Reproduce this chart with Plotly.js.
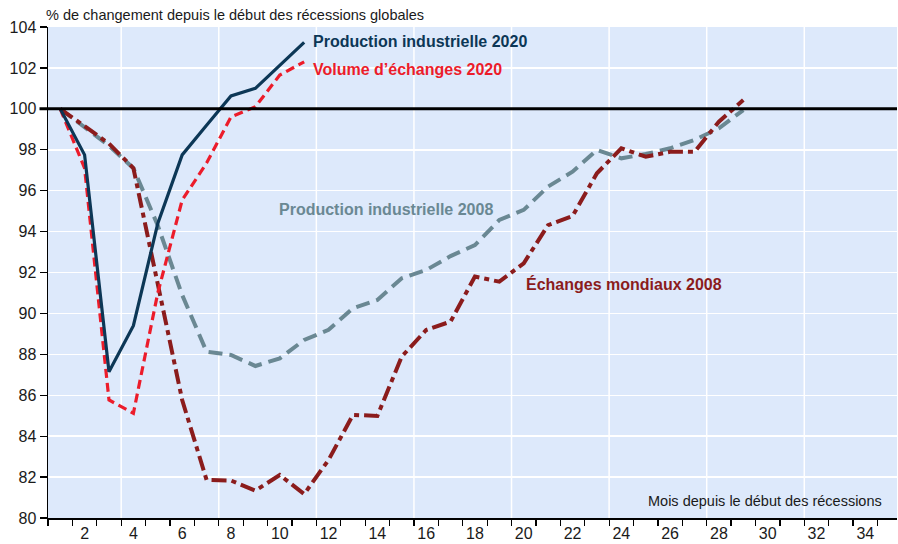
<!DOCTYPE html>
<html>
<head>
<meta charset="utf-8">
<script src="https://cdn.plot.ly/plotly-3.0.1.min.js"></script>
<style>
  html, body { margin: 0; padding: 0; background: #fff; }
  #plot { width: 898px; height: 544px; }
</style>
</head>
<body>
<div id="plot"></div>
<script>
// months since start of the recession
let mois2020 = [1, 2, 3, 4, 5, 6, 7, 8, 9, 10, 11];
let mois2008 = [1, 2, 3, 4, 5, 6, 7, 8, 9, 10, 11, 12, 13, 14, 15, 16, 17, 18, 19, 20,
                21, 22, 23, 24, 25, 26, 27, 28, 29];

// index, start of recession = 100
let production2020 = [100, 97.75, 87.15, 89.4, 94.4, 97.75, 99.2, 100.63, 101.0, 102.1, 103.25];
let echanges2020 = [100, 97.1, 85.77, 85.12, 91.0, 95.54, 97.35, 99.6, 100.1, 101.65, 102.3];
let production2008 = [100, 99.1, 98.2, 97.1, 94.3, 90.9, 88.13, 87.97, 87.43, 87.8, 88.7, 89.2,
                      90.25, 90.66, 91.72, 92.12, 92.8, 93.34, 94.57, 95.06, 96.2, 96.93, 97.99,
                      97.58, 97.79, 98.07, 98.48, 99.05, 99.94];
let echanges2008 = [100, 99.16, 98.3, 97.1, 91.46, 85.77, 81.86, 81.83, 81.34, 82.1, 81.17, 82.84,
                    85.04, 84.99, 87.89, 89.19, 89.6, 91.8, 91.55, 92.45, 94.32, 94.76, 96.85,
                    98.07, 97.66, 97.9, 97.9, 99.37, 100.43];

let tickMois = [2, 4, 6, 8, 10, 12, 14, 16, 18, 20, 22, 24, 26, 28, 30, 32, 34];

let font = "Liberation Sans, Arial, sans-serif";

let prod2008Trace = {
    x: mois2008, y: production2008, mode: "lines", type: "scatter",
    line: {color: "#6a8893", width: 4, dash: "14px,7px"},
    hoverinfo: "skip"
};
let ech2008Trace = {
    x: mois2008, y: echanges2008, mode: "lines", type: "scatter",
    line: {color: "#8b1c1c", width: 4, dash: "15px,5px,5px,5px"},
    hoverinfo: "skip"
};
let ech2020Trace = {
    x: mois2020, y: echanges2020, mode: "lines", type: "scatter",
    line: {color: "#ec1c2a", width: 3.2, dash: "9px,5px"},
    hoverinfo: "skip"
};
let prod2020Trace = {
    x: mois2020, y: production2020, mode: "lines", type: "scatter",
    line: {color: "#0c3756", width: 3.2},
    hoverinfo: "skip"
};

let data = [prod2008Trace, ech2008Trace, ech2020Trace, prod2020Trace];

// vertical white gridlines every 4 months (between categories)
let shapes = [];
for (let g = 3.5; g < 35; g += 4) {
    shapes.push({type: "line", layer: "below", xref: "x", yref: "paper",
                 x0: g, x1: g, y0: 0, y1: 1, line: {color: "#ffffff", width: 1.5}});
}
// the 100 reference line
shapes.push({type: "line", layer: "above", xref: "paper", yref: "y",
             x0: -0.01, x1: 1, y0: 100, y1: 100, line: {color: "#000000", width: 3}});

let layout = {
    width: 898, height: 544,
    margin: {l: 48, r: 1, t: 27, b: 26, pad: 0},
    paper_bgcolor: "#ffffff",
    plot_bgcolor: "#dde9fb",
    showlegend: false,
    font: {family: font, size: 16, color: "#1a1a1a"},
    xaxis: {
        range: [0.5, 35.3],
        tickvals: tickMois,
        ticks: "",
        showgrid: false,
        zeroline: false,
        showline: true, linecolor: "#000000", linewidth: 1.5,
        tickfont: {size: 16, color: "#1a1a1a"},
        minor: {tick0: 0.5, dtick: 1, ticks: "outside", ticklen: 6, tickcolor: "#000000",
                tickwidth: 1.2, showgrid: false}
    },
    yaxis: {
        range: [80, 104],
        dtick: 2,
        ticks: "outside", ticklen: 7, tickcolor: "#000000", tickwidth: 1.2,
        showgrid: true, gridcolor: "#ffffff", gridwidth: 1.5,
        zeroline: false,
        showline: true, linecolor: "#000000", linewidth: 1.5,
        tickfont: {size: 16, color: "#1a1a1a"}
    },
    shapes: shapes,
    annotations: [
        {xref: "paper", yref: "paper", x: -0.005, y: 1.025, xanchor: "left", yanchor: "middle",
         text: "% de changement depuis le début des récessions globales", showarrow: false,
         font: {size: 14.5, color: "#1a1a1a"}},
        {x: 11.3, y: 103.27, xanchor: "left", yanchor: "middle", showarrow: false,
         text: "<b>Production industrielle 2020</b>", font: {size: 16, color: "#0c3756"}},
        {x: 11.3, y: 101.9, xanchor: "left", yanchor: "middle", showarrow: false,
         text: "<b>Volume d’échanges 2020</b>", font: {size: 16, color: "#ec1c2a"}},
        {x: 9.9, y: 95.06, xanchor: "left", yanchor: "middle", showarrow: false,
         text: "<b>Production industrielle 2008</b>", font: {size: 16, color: "#6a8893"}},
        {x: 20.0, y: 91.44, xanchor: "left", yanchor: "middle", showarrow: false,
         text: "<b>Échanges mondiaux 2008</b>", font: {size: 16, color: "#8b1c1c"}},
        {x: 34.75, y: 80.83, xanchor: "right", yanchor: "middle", showarrow: false,
         text: "Mois depuis le début des récessions", font: {size: 14.5, color: "#1a1a1a"}}
    ]
};

Plotly.newPlot("plot", data, layout, {displayModeBar: false, staticPlot: true});
</script>
</body>
</html>
